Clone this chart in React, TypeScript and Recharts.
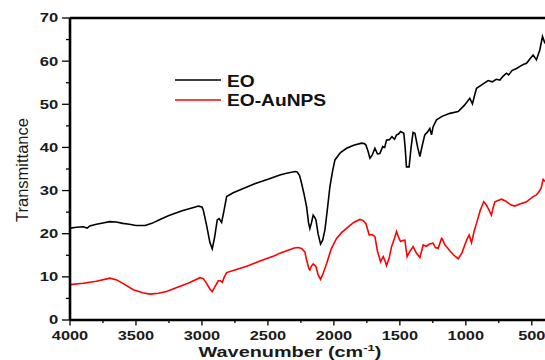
import React from 'react';
import { LineChart, Line, XAxis, YAxis, ReferenceLine, Legend } from 'recharts';

const eoWavenumber = [
  4000, 3950, 3900, 3870, 3850, 3800, 3750, 3700, 3650, 3600, 3550, 3500, 3430, 3380, 3318, 3250, 3150, 3050,
  3028, 3000, 2990, 2965, 2940, 2922, 2905, 2884, 2870, 2851, 2835, 2813, 2763, 2700, 2600, 2500, 2409, 2359,
  2295, 2278, 2260, 2245, 2225, 2207, 2192, 2182, 2170, 2157, 2145, 2136, 2120, 2101, 2085, 2068, 2050, 2030,
  2010, 1992, 1950, 1904, 1850, 1790, 1770, 1758, 1740, 1727, 1710, 1689, 1670, 1652, 1630, 1615, 1601, 1580,
  1560, 1540, 1525, 1510, 1495, 1470, 1460, 1450, 1430, 1415, 1400, 1386, 1365, 1348, 1330, 1311, 1290, 1273,
  1260, 1248, 1222, 1180, 1121, 1058, 1010, 970, 950, 930, 919, 880, 831, 800, 770, 742, 715, 692, 675, 650,
  616, 590, 565, 540, 515, 490, 465, 440, 419, 400,
];
const eoTransmittance = [
  21.3, 21.5, 21.6, 21.3, 21.8, 22.2, 22.5, 22.8, 22.7, 22.4, 22.2, 21.9, 21.9, 22.4, 23.3, 24.2, 25.3, 26.2,
  26.4, 26.2, 25.5, 22.0, 18.0, 16.5, 19.0, 23.2, 23.5, 22.6, 25.0, 28.6, 29.5, 30.3, 31.6, 32.6, 33.6, 34.0,
  34.4, 34.3, 33.5, 31.7, 29.0, 26.3, 22.5, 21.2, 22.5, 24.3, 23.8, 23.2, 20.0, 17.6, 18.5, 20.9, 25.5, 30.9,
  34.5, 37.1, 38.8, 39.8, 40.5, 41.0, 40.9, 40.6, 39.0, 37.5, 38.2, 39.8, 38.5, 38.6, 40.2, 40.0, 41.7, 41.8,
  42.5, 41.9, 42.9, 43.1, 43.7, 43.3, 40.0, 35.5, 35.5, 40.0, 43.5, 43.3, 40.0, 37.9, 40.5, 42.9, 43.6, 44.4,
  42.9, 44.8, 46.4, 47.2, 47.9, 48.3, 49.8, 51.4, 50.1, 52.5, 53.7, 54.5, 55.5, 55.2, 55.8, 55.6, 56.6, 57.2, 56.8, 57.8,
  58.3, 58.8, 59.2, 59.5, 60.5, 61.4, 60.3, 62.5, 65.7, 64.1,
];

const auWavenumber = [
  4000, 3900, 3800, 3697, 3646, 3600, 3520, 3450, 3394, 3330, 3268, 3200, 3100, 3015, 2990, 2965, 2940, 2922,
  2900, 2876, 2860, 2846, 2830, 2813, 2750, 2650, 2550, 2450, 2409, 2300, 2270, 2245, 2220, 2207, 2190, 2182,
  2170, 2157, 2136, 2120, 2101, 2085, 2055, 2020, 1980, 1940, 1891, 1850, 1803, 1780, 1758, 1740, 1732, 1710,
  1689, 1670, 1646, 1635, 1626, 1610, 1601, 1580, 1563, 1540, 1525, 1510, 1495, 1480, 1462, 1445, 1430, 1400,
  1375, 1348, 1323, 1300, 1275, 1248, 1230, 1210, 1184, 1177, 1160, 1146, 1120, 1090, 1058, 1030, 1008, 990,
  975, 957, 935, 919, 890, 864, 845, 831, 806, 795, 780, 730, 700, 660, 629, 590, 540, 515, 490, 465, 452, 430,
  414, 400,
];
const auTransmittance = [
  8.2, 8.5, 9.0, 9.7, 9.3, 8.5, 7.0, 6.3, 6.0, 6.2, 6.6, 7.4, 8.6, 9.8, 9.6, 8.5, 7.2, 6.6,
  7.8, 9.1, 9.1, 8.7, 10.0, 11.0, 11.6, 12.6, 13.8, 14.9, 15.5, 16.7, 16.8, 16.6, 15.8, 13.9, 12.0, 11.6,
  12.5, 13.0, 12.4, 10.5, 9.4, 10.5, 13.1, 16.5, 18.9, 20.3, 21.6, 22.6, 23.3, 23.1, 22.4, 20.5, 19.7, 19.8,
  19.3, 16.0, 13.5, 14.2, 14.7, 13.5, 12.6, 14.5, 17.0, 19.0, 20.5, 19.2, 18.2, 18.4, 18.5, 14.7, 15.6, 17.0,
  15.5, 14.5, 17.4, 17.1, 17.6, 17.8, 16.8, 16.6, 18.9, 18.7, 17.5, 17.0, 16.0, 15.0, 14.2, 15.5, 17.4, 18.8,
  19.7, 17.9, 20.8, 22.4, 25.5, 27.4, 26.7, 25.9, 24.3, 25.8, 27.4, 28.0, 27.6, 26.7, 26.4, 26.9, 27.4, 28.0, 28.6, 29.0, 29.5, 30.5,
  32.6, 32.1,
];

const xTicks = [4000, 3750, 3500, 3250, 3000, 2750, 2500, 2250, 2000, 1750, 1500, 1250, 1000, 750, 500];
const yTicks = [0, 5, 10, 15, 20, 25, 30, 35, 40, 45, 50, 55, 60, 65, 70];

const eoData = eoWavenumber.map((wn, i) => ({ wn, t: eoTransmittance[i] }));
const auData = auWavenumber.map((wn, i) => ({ wn, t: auTransmittance[i] }));

const FONT = "'Liberation Sans', Arial, sans-serif";

const XTick = (props: any) => {
  const { x, y, payload } = props;
  const v = payload.value;
  const major = v % 500 === 0;
  return (
    <g>
      <line x1={x} x2={x} y1={y} y2={y + (major ? 5.5 : 3)} stroke="#000" strokeWidth={1.3} />
      {major && (
        <text
          transform={`translate(${x},${y + 19.8}) scale(1.3,1)`}
          textAnchor="middle"
          fontFamily={FONT}
          fontWeight="bold"
          fontSize={12.6}
          fill="#1a1a1a"
        >
          {v}
        </text>
      )}
    </g>
  );
};

const YTick = (props: any) => {
  const { x, y, payload } = props;
  const v = payload.value;
  const major = v % 10 === 0;
  return (
    <g>
      <line x1={x - (major ? 8 : 4)} x2={x} y1={y} y2={y} stroke="#000" strokeWidth={1.3} />
      {major && (
        <text
          transform={`translate(${x - 11.7},${y + 4.4}) scale(1.35,1)`}
          textAnchor="end"
          fontFamily={FONT}
          fontWeight="bold"
          fontSize={12.3}
          fill="#1a1a1a"
        >
          {v}
        </text>
      )}
    </g>
  );
};

const LegendContent = (props: any) => {
  const items = props.payload || [];
  return (
    <svg width={220} height={44} style={{ display: 'block' }}>
      {items.map((it: any, i: number) => (
        <g key={i}>
          <line x1={5} x2={51} y1={12 + i * 20} y2={12 + i * 20} stroke={it.color} strokeWidth={1.5} />
          <text
            transform={`translate(57,${18.7 + i * 19}) scale(1.2,1)`}
            fontFamily={FONT}
            fontWeight="bold"
            fontSize={16}
            fill="#111"
          >
            {it.value}
          </text>
        </g>
      ))}
    </svg>
  );
};

export default function App() {
  return (
    <div style={{ position: 'relative', width: 545, height: 360 }}>
      <style>{`body{margin:0;overflow:hidden;background:#fff}`}</style>
      <LineChart width={545} height={360} margin={{ top: 18, right: 0, bottom: 0, left: 0 }}>
        <XAxis
          dataKey="wn"
          type="number"
          domain={[400, 4000]}
          reversed
          allowDataOverflow
          ticks={xTicks}
          interval={0}
          tick={<XTick />}
          tickLine={false}
          tickSize={0}
          tickMargin={0}
          height={40}
          axisLine={{ stroke: '#000', strokeWidth: 2.6 }}
        />
        <YAxis
          type="number"
          domain={[0, 70]}
          ticks={yTicks}
          interval={0}
          tick={<YTick />}
          tickLine={false}
          tickSize={0}
          tickMargin={0}
          width={70}
          axisLine={{ stroke: '#000', strokeWidth: 2.6 }}
        />
        <ReferenceLine y={70} stroke="#000" strokeWidth={2.6} />
        <Legend
          layout="vertical"
          align="center"
          verticalAlign="middle"
          content={<LegendContent />}
          wrapperStyle={{ position: 'absolute', left: 170, top: 68, width: 220, height: 44 }}
        />
        <Line data={eoData} dataKey="t" name="EO" stroke="#000" strokeWidth={1.6} dot={false} isAnimationActive={false} type="linear" />
        <Line data={auData} dataKey="t" name="EO-AuNPS" stroke="#ff0000" strokeWidth={1.6} dot={false} isAnimationActive={false} type="linear" />
      </LineChart>
      <svg width={545} height={360} style={{ position: 'absolute', left: 0, top: 0, pointerEvents: 'none' }}>
        <text
          transform="translate(28,170) rotate(-90)"
          textAnchor="middle"
          fontFamily={FONT}
          fontSize={16.5}
          fill="#1a1a1a"
        >
          Transmittance
        </text>
        <text
          transform="translate(290,356.8) scale(1.37,1)"
          textAnchor="middle"
          fontFamily={FONT}
          fontWeight="bold"
          fontSize={14.5}
          fill="#1a1a1a"
        >
          Wavenumber (cm<tspan dy={-5.5} fontSize={9.5}>-1</tspan><tspan dy={5.5}>)</tspan>
        </text>
      </svg>
    </div>
  );
}
